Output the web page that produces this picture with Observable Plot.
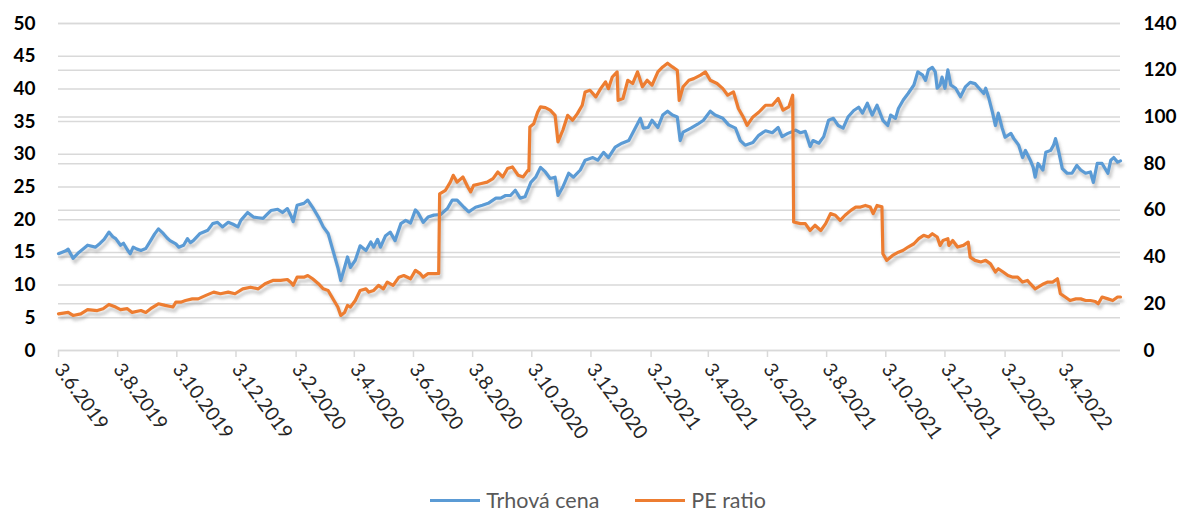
<!DOCTYPE html>
<html><head><meta charset="utf-8">
<script src="https://cdn.jsdelivr.net/npm/d3@7"></script>
<script src="https://cdn.jsdelivr.net/npm/@observablehq/plot@0.6"></script>
<style>
html,body{margin:0;padding:0;background:#fff;}
body{width:1194px;height:515px;overflow:hidden;font-family:Lato,"Liberation Sans",sans-serif;}
#legend{display:flex;justify-content:center;align-items:center;height:30px;padding-top:10px;padding-left:2px;font-size:21.5px;color:#595959;}
.item{display:flex;align-items:center;margin:0 18px;}
.sw{width:50px;height:3px;margin-right:6px;}
</style></head><body>
<div id="chart"></div>
<div id="legend"></div>
<script>
// ---- data ----
const seriesNames = ["Trhová cena", "PE ratio"];
const seriesColors = ["#5B9BD5", "#ED7D31"];
const leftTicks = [0,5,10,15,20,25,30,35,40,45,50];
const rightTicks = [0,20,40,60,80,100,120,140];
const xTicks = ["2019-06-03","2019-08-03","2019-10-03","2019-12-03","2020-02-03","2020-04-03","2020-06-03","2020-08-03","2020-10-03","2020-12-03","2021-02-03","2021-04-03","2021-06-03","2021-08-03","2021-10-03","2021-12-03","2022-02-03","2022-04-03"];
const xDomain = ["2019-06-03","2022-06-02"];

const price = [["2019-06-03",14.8],["2019-06-10",15.2],["2019-06-13",15.5],["2019-06-18",14.1],["2019-06-24",15.0],["2019-06-29",15.6],["2019-07-03",16.1],["2019-07-11",15.8],["2019-07-16",16.4],["2019-07-20",17.0],["2019-07-25",18.1],["2019-07-29",17.4],["2019-08-01",17.1],["2019-08-06",16.1],["2019-08-09",16.4],["2019-08-13",15.4],["2019-08-16",14.8],["2019-08-19",15.8],["2019-08-23",15.5],["2019-08-27",15.3],["2019-09-01",15.6],["2019-09-06",16.8],["2019-09-10",17.8],["2019-09-14",18.6],["2019-09-19",17.9],["2019-09-23",17.2],["2019-09-26",16.8],["2019-10-02",16.3],["2019-10-05",15.8],["2019-10-10",16.1],["2019-10-14",17.1],["2019-10-17",16.5],["2019-10-20",16.8],["2019-10-27",17.9],["2019-11-04",18.4],["2019-11-09",19.4],["2019-11-14",19.6],["2019-11-19",18.9],["2019-11-25",19.6],["2019-11-30",19.3],["2019-12-05",18.9],["2019-12-08",19.9],["2019-12-15",21.1],["2019-12-21",20.4],["2019-12-26",20.3],["2019-12-31",20.2],["2020-01-04",20.8],["2020-01-08",21.4],["2020-01-15",21.6],["2020-01-20",21.1],["2020-01-25",21.7],["2020-01-29",20.5],["2020-01-31",19.7],["2020-02-04",22.2],["2020-02-11",22.5],["2020-02-15",23.0],["2020-02-20",21.9],["2020-02-26",20.4],["2020-03-02",18.9],["2020-03-07",17.9],["2020-03-11",15.8],["2020-03-17",12.7],["2020-03-20",10.7],["2020-03-23",12.2],["2020-03-27",14.3],["2020-03-30",12.7],["2020-04-04",13.8],["2020-04-09",16.0],["2020-04-15",15.3],["2020-04-20",16.6],["2020-04-23",15.8],["2020-04-27",17.0],["2020-04-30",15.8],["2020-05-05",17.5],["2020-05-10",18.1],["2020-05-15",16.8],["2020-05-21",19.4],["2020-05-26",19.9],["2020-05-31",19.5],["2020-06-05",21.5],["2020-06-08",21.0],["2020-06-13",19.6],["2020-06-18",20.4],["2020-06-24",20.7],["2020-07-01",20.8],["2020-07-08",21.7],["2020-07-13",23.0],["2020-07-18",23.0],["2020-07-25",21.9],["2020-07-30",21.2],["2020-08-06",21.9],["2020-08-13",22.2],["2020-08-19",22.5],["2020-08-27",23.3],["2020-09-01",23.3],["2020-09-06",23.7],["2020-09-11",23.7],["2020-09-16",24.5],["2020-09-21",23.3],["2020-09-26",23.5],["2020-10-02",25.7],["2020-10-07",26.5],["2020-10-12",28.0],["2020-10-17",27.3],["2020-10-22",26.3],["2020-10-27",26.5],["2020-10-30",23.7],["2020-11-04",25.0],["2020-11-10",27.1],["2020-11-15",26.5],["2020-11-22",27.6],["2020-11-27",29.1],["2020-12-05",29.5],["2020-12-10",29.1],["2020-12-16",30.3],["2020-12-21",29.5],["2020-12-28",31.1],["2021-01-04",31.7],["2021-01-11",32.1],["2021-01-18",34.1],["2021-01-23",35.5],["2021-01-26",34.0],["2021-01-31",34.1],["2021-02-04",35.2],["2021-02-10",34.1],["2021-02-15",36.0],["2021-02-20",36.6],["2021-02-25",36.0],["2021-03-02",35.7],["2021-03-05",32.1],["2021-03-08",33.4],["2021-03-16",34.0],["2021-03-23",34.6],["2021-03-29",35.2],["2021-04-05",36.6],["2021-04-10",36.0],["2021-04-18",35.5],["2021-04-24",34.5],["2021-05-01",34.0],["2021-05-06",32.1],["2021-05-11",31.4],["2021-05-19",31.8],["2021-05-25",32.9],["2021-06-01",33.6],["2021-06-08",33.3],["2021-06-14",34.1],["2021-06-18",32.7],["2021-06-24",33.2],["2021-06-29",33.5],["2021-07-02",33.7],["2021-07-07",33.3],["2021-07-12",33.5],["2021-07-17",31.2],["2021-07-20",32.1],["2021-07-26",31.7],["2021-07-31",32.7],["2021-08-05",35.2],["2021-08-10",35.5],["2021-08-15",34.4],["2021-08-20",34.0],["2021-08-25",35.7],["2021-08-31",36.7],["2021-09-05",37.2],["2021-09-09",36.3],["2021-09-14",37.8],["2021-09-19",36.0],["2021-09-24",37.5],["2021-09-30",35.2],["2021-10-05",34.4],["2021-10-08",36.0],["2021-10-13",35.5],["2021-10-16",37.0],["2021-10-21",38.3],["2021-10-26",39.3],["2021-11-01",40.6],["2021-11-05",42.6],["2021-11-10",42.1],["2021-11-13",41.3],["2021-11-16",42.9],["2021-11-20",43.3],["2021-11-23",42.6],["2021-11-25",40.1],["2021-11-28",40.6],["2021-11-30",41.8],["2021-12-03",40.1],["2021-12-06",42.9],["2021-12-09",40.6],["2021-12-14",40.1],["2021-12-19",38.8],["2021-12-24",40.3],["2021-12-29",41.0],["2022-01-03",40.8],["2022-01-09",39.8],["2022-01-12",39.3],["2022-01-14",40.1],["2022-01-17",38.7],["2022-01-21",36.4],["2022-01-24",34.4],["2022-01-27",36.3],["2022-01-31",34.0],["2022-02-03",32.6],["2022-02-09",33.2],["2022-02-12",32.4],["2022-02-17",31.4],["2022-02-21",29.5],["2022-02-24",30.6],["2022-03-01",29.1],["2022-03-04",28.0],["2022-03-06",26.5],["2022-03-09",28.6],["2022-03-14",27.6],["2022-03-17",30.3],["2022-03-22",30.6],["2022-03-25",31.4],["2022-03-27",32.4],["2022-03-30",30.6],["2022-04-03",27.8],["2022-04-08",27.1],["2022-04-13",27.1],["2022-04-18",28.3],["2022-04-22",27.6],["2022-04-27",27.1],["2022-05-02",27.3],["2022-05-05",25.7],["2022-05-09",28.6],["2022-05-14",28.6],["2022-05-20",27.1],["2022-05-23",29.1],["2022-05-26",29.5],["2022-05-30",28.8],["2022-06-02",29.0]];

const pe = [["2019-06-03",15.7],["2019-06-13",16.3],["2019-06-18",15.0],["2019-06-26",15.7],["2019-07-03",17.5],["2019-07-13",17.1],["2019-07-19",17.9],["2019-07-25",19.7],["2019-08-01",18.6],["2019-08-06",17.5],["2019-08-13",17.9],["2019-08-18",16.3],["2019-08-27",17.1],["2019-09-01",16.3],["2019-09-06",17.9],["2019-09-14",20.0],["2019-09-21",19.3],["2019-09-29",18.6],["2019-10-02",20.7],["2019-10-07",20.7],["2019-10-12",21.4],["2019-10-19",22.1],["2019-10-25",22.1],["2019-11-02",23.6],["2019-11-10",25.0],["2019-11-17",24.3],["2019-11-25",25.0],["2019-12-02",24.3],["2019-12-10",26.4],["2019-12-18",27.1],["2019-12-26",26.4],["2020-01-02",28.6],["2020-01-10",30.0],["2020-01-18",30.0],["2020-01-25",30.4],["2020-01-29",29.0],["2020-01-31",27.9],["2020-02-04",31.4],["2020-02-11",31.4],["2020-02-15",32.1],["2020-02-20",30.7],["2020-02-26",28.6],["2020-03-02",26.4],["2020-03-07",25.7],["2020-03-13",21.4],["2020-03-17",18.6],["2020-03-20",15.0],["2020-03-24",16.3],["2020-03-27",19.3],["2020-03-30",18.6],["2020-04-04",21.4],["2020-04-09",25.7],["2020-04-15",26.4],["2020-04-18",25.0],["2020-04-23",25.7],["2020-04-28",27.9],["2020-05-03",26.4],["2020-05-07",29.3],["2020-05-13",27.9],["2020-05-19",31.4],["2020-05-24",32.1],["2020-05-31",30.7],["2020-06-05",34.3],["2020-06-10",32.9],["2020-06-13",31.4],["2020-06-18",32.9],["2020-06-26",32.9],["2020-06-29",33.0],["2020-06-30",67.1],["2020-07-06",68.6],["2020-07-11",72.1],["2020-07-14",75.0],["2020-07-18",72.1],["2020-07-24",74.3],["2020-07-29",70.0],["2020-08-01",67.9],["2020-08-04",70.7],["2020-08-11",71.4],["2020-08-18",72.1],["2020-08-24",73.6],["2020-08-29",76.4],["2020-09-03",74.3],["2020-09-08",77.9],["2020-09-13",78.6],["2020-09-19",75.0],["2020-09-24",74.3],["2020-09-29",77.1],["2020-09-30",77.0],["2020-10-01",95.7],["2020-10-05",97.1],["2020-10-09",102.0],["2020-10-12",104.3],["2020-10-17",104.0],["2020-10-22",102.9],["2020-10-27",100.7],["2020-10-30",89.3],["2020-11-04",94.3],["2020-11-09",100.7],["2020-11-14",98.6],["2020-11-19",101.4],["2020-11-24",105.0],["2020-11-27",110.7],["2020-12-02",111.4],["2020-12-08",108.6],["2020-12-13",112.1],["2020-12-18",115.0],["2020-12-21",112.1],["2020-12-25",117.1],["2020-12-30",119.3],["2020-12-31",107.1],["2021-01-05",107.9],["2021-01-10",115.7],["2021-01-15",114.3],["2021-01-20",119.3],["2021-01-25",112.9],["2021-01-30",115.7],["2021-02-04",113.6],["2021-02-10",119.3],["2021-02-15",121.4],["2021-02-20",123.0],["2021-02-25",121.4],["2021-03-02",120.0],["2021-03-04",107.1],["2021-03-08",112.9],["2021-03-14",115.7],["2021-03-19",116.4],["2021-03-26",117.9],["2021-03-31",119.3],["2021-04-05",115.7],["2021-04-12",114.3],["2021-04-18",112.1],["2021-04-23",109.3],["2021-04-29",110.7],["2021-05-04",103.6],["2021-05-09",100.0],["2021-05-13",96.4],["2021-05-19",100.0],["2021-05-25",102.0],["2021-06-01",105.0],["2021-06-08",105.0],["2021-06-14",107.9],["2021-06-19",102.9],["2021-06-25",104.3],["2021-06-29",109.3],["2021-06-30",55.0],["2021-07-07",54.3],["2021-07-12",54.3],["2021-07-17",51.4],["2021-07-22",53.6],["2021-07-28",51.4],["2021-08-02",54.3],["2021-08-07",58.6],["2021-08-12",57.9],["2021-08-17",55.7],["2021-08-22",57.9],["2021-08-28",60.0],["2021-09-02",61.4],["2021-09-07",61.4],["2021-09-12",62.1],["2021-09-17",61.4],["2021-09-20",58.6],["2021-09-24",62.1],["2021-09-29",61.5],["2021-09-30",41.4],["2021-10-04",38.6],["2021-10-10",40.7],["2021-10-16",42.1],["2021-10-21",42.9],["2021-10-26",44.3],["2021-11-01",45.7],["2021-11-06",47.9],["2021-11-11",49.3],["2021-11-16",48.6],["2021-11-20",50.0],["2021-11-25",48.6],["2021-11-28",45.0],["2021-12-01",47.1],["2021-12-06",47.9],["2021-12-07",45.0],["2021-12-11",47.1],["2021-12-16",44.3],["2021-12-22",45.0],["2021-12-27",46.4],["2021-12-29",40.0],["2022-01-03",38.6],["2022-01-09",37.9],["2022-01-14",38.6],["2022-01-19",37.1],["2022-01-24",33.6],["2022-01-27",35.0],["2022-02-01",33.6],["2022-02-06",32.1],["2022-02-11",31.4],["2022-02-16",31.4],["2022-02-21",29.3],["2022-02-26",30.0],["2022-03-01",28.6],["2022-03-06",26.4],["2022-03-09",27.1],["2022-03-15",28.6],["2022-03-19",29.3],["2022-03-24",29.3],["2022-03-29",30.7],["2022-04-01",24.3],["2022-04-06",22.9],["2022-04-11",21.4],["2022-04-17",22.1],["2022-04-22",22.1],["2022-04-27",21.4],["2022-05-02",21.4],["2022-05-07",21.0],["2022-05-10",20.0],["2022-05-14",22.9],["2022-05-20",22.1],["2022-05-25",21.4],["2022-05-30",22.9],["2022-06-02",22.9]];

// ---- build ----
const parse = d3.utcParse("%Y-%m-%d");
const leftMax = 50, rightMax = 140;
const toLeft = v => v * leftMax / rightMax;
const priceData = price.map(([d, v]) => ({date: parse(d), value: v}));
const peData = pe.map(([d, v]) => ({date: parse(d), value: v}));
const fmtDate = d => `${d.getUTCDate()}.${d.getUTCMonth() + 1}.${d.getUTCFullYear()}`;
const grid = "#d9d9d9";
const shadow = "#8a8a8a";

const chart = Plot.plot({
  width: 1194,
  height: 475,
  marginLeft: 58,
  marginRight: 74,
  marginTop: 23,
  marginBottom: 125,
  style: {fontFamily: "Lato, 'Liberation Sans', sans-serif", background: "#fff", overflow: "visible"},
  x: {type: "utc", domain: xDomain.map(parse)},
  y: {domain: [0, leftMax]},
  marks: [
    Plot.ruleY(leftTicks, {stroke: grid, strokeWidth: 1.5}),
    Plot.ruleY(rightTicks.map(toLeft), {stroke: grid, strokeWidth: 1.5}),
    Plot.axisY({anchor: "left", ticks: leftTicks, tickSize: 0, tickPadding: 23, fontSize: 19, fontWeight: "bold", fill: "#000", label: null}),
    Plot.axisY({anchor: "right", ticks: rightTicks.map(toLeft), tickFormat: d => Math.round(d * rightMax / leftMax), tickSize: 0, tickPadding: 23, fontSize: 19, fontWeight: "bold", fill: "#000", label: null}),
    Plot.axisX({ticks: xTicks.map(parse), tickFormat: fmtDate, tickRotate: 54, tickSize: 7, tickPadding: 8, stroke: grid, strokeWidth: 1.5, fill: "#262626", fontSize: 19.5, label: null}),
    Plot.lineY(priceData, {x: "date", y: "value", stroke: shadow, strokeWidth: 3.2, strokeOpacity: 0.45, dx: 2, dy: 4}),
    Plot.lineY(priceData, {x: "date", y: "value", stroke: seriesColors[0], strokeWidth: 3.2}),
    Plot.lineY(peData, {x: "date", y: d => toLeft(d.value), stroke: shadow, strokeWidth: 3.2, strokeOpacity: 0.45, dx: 2, dy: 4}),
    Plot.lineY(peData, {x: "date", y: d => toLeft(d.value), stroke: seriesColors[1], strokeWidth: 3.2})
  ]
});

// soft shadow blur
const svg = d3.select(chart);
const defs = svg.insert("defs", ":first-child");
defs.append("filter").attr("id", "blurShadow").attr("x", "-5%").attr("y", "-5%").attr("width", "110%").attr("height", "110%")
  .append("feGaussianBlur").attr("stdDeviation", 1.6);
svg.selectAll(`g[stroke="${shadow}"]`).attr("filter", "url(#blurShadow)");

document.getElementById("chart").appendChild(chart);

const legend = document.getElementById("legend");
seriesNames.forEach((name, i) => {
  const item = document.createElement("div");
  item.className = "item";
  const sw = document.createElement("div");
  sw.className = "sw";
  sw.style.background = seriesColors[i];
  const t = document.createElement("span");
  t.textContent = name;
  item.appendChild(sw); item.appendChild(t);
  legend.appendChild(item);
});
</script>
</body></html>
